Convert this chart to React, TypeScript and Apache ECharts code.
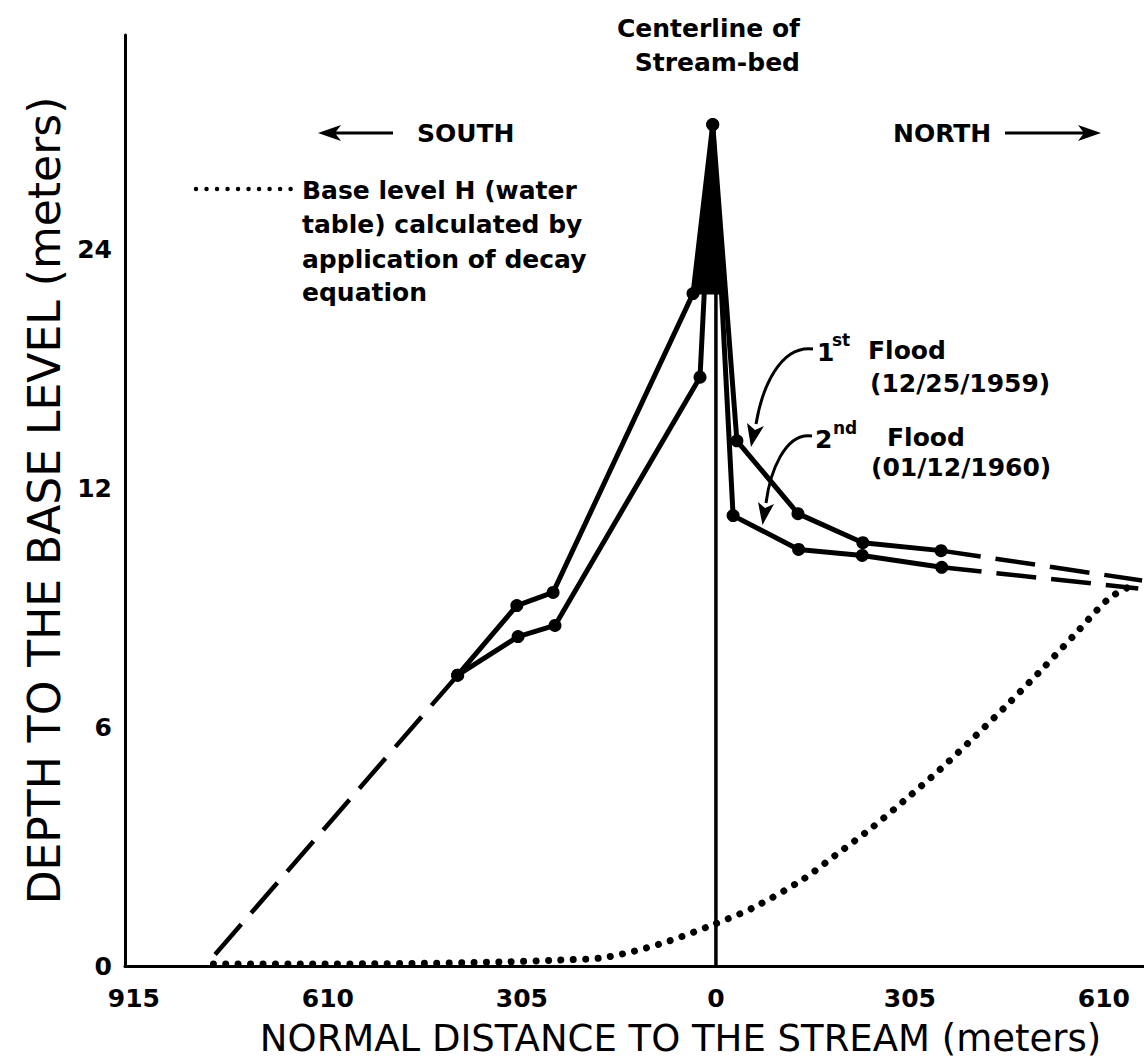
import React, { useEffect, useRef } from "react";
import * as echarts from "echarts";

// Horizontal distance from the stream centreline, metres (south negative, north positive)
const X_TICKS = [-915, -610, -305, 0, 305, 610];
// Depth axis tick values; they sit at equal steps on the axis
const DEPTH_TICKS = [0, 6, 12, 24];

// 1st flood (12/25/1959)
const FLOOD1_X = [-406, -313, -256, -36, -5, 33, 129, 231, 354];
const FLOOD1_DEPTH = [7.31, 9.06, 9.39, 21.8, 30.3, 14.4, 11.37, 10.64, 10.44];
// 2nd flood (01/12/1960)
const FLOOD2_X = [-406, -311, -253, -25, -5, 27, 130, 230, 355];
const FLOOD2_DEPTH = [7.31, 8.28, 8.56, 17.6, 30.3, 11.32, 10.47, 10.32, 10.02];

// Extrapolated (dashed) continuations
const SOUTH_EXT_X = [-406, -803];
const SOUTH_EXT_DEPTH = [7.31, 0];
const FLOOD1_TAIL_X = [354, 670];
const FLOOD1_TAIL_DEPTH = [10.44, 9.69];
const FLOOD2_TAIL_X = [355, 664];
const FLOOD2_TAIL_DEPTH = [10.02, 9.49];

// Base level H from the decay equation
const BASE_X = [-790, -654, -497, -340, -245, -182, -129, -75, -6, 58, 137, 190, 244, 297, 351, 404, 457, 511, 564, 618, 651];
const BASE_DEPTH = [0.05, 0.05, 0.06, 0.1, 0.15, 0.2, 0.37, 0.62, 1.03, 1.46, 2.18, 2.81, 3.46, 4.17, 4.92, 5.72, 6.55, 7.43, 8.33, 9.24, 9.54];

const CENTERLINE_TOP = 27;

const FONT = '"DejaVu Sans", "Liberation Sans", sans-serif';

// Piecewise-linear depth scale: each labelled tick is one axis step
function depthToAxis(d: number): number {
  const t = DEPTH_TICKS;
  for (let i = 1; i < t.length; i++) {
    if (d <= t[i] || i === t.length - 1) {
      return i - 1 + (d - t[i - 1]) / (t[i] - t[i - 1]);
    }
  }
  return 0;
}

function pairs(xs: number[], ds: number[]): number[][] {
  return xs.map((x, i) => [x, depthToAxis(ds[i])]);
}

// Ink wedge under the crest: 1st-flood south limb, crest, and the 2nd-flood
// north limb taken down to the depth of the 1st-flood south point.
function crestWedge(): number[][] {
  const crest = [FLOOD1_X[4], depthToAxis(FLOOD1_DEPTH[4])];
  const south = [FLOOD1_X[3], depthToAxis(FLOOD1_DEPTH[3])];
  const north = [FLOOD2_X[5], depthToAxis(FLOOD2_DEPTH[5])];
  const t = (crest[1] - south[1]) / (crest[1] - north[1]);
  const onNorth = [crest[0] + t * (north[0] - crest[0]), south[1]];
  return [crest, south, onNorth];
}

function label(text: string, x: number, y: number, size = 25, align = "left") {
  return {
    type: "text",
    x,
    y,
    z: 10,
    style: {
      text,
      fill: "#000",
      font: `bold ${size}px ${FONT}`,
      textAlign: align,
      textVerticalAlign: "middle",
    },
  };
}

function arrowHead(tip: number[], b1: number[], notch: number[], b2: number[]) {
  return {
    type: "polygon",
    z: 10,
    shape: { points: [tip, b1, notch, b2] },
    style: { fill: "#000" },
  };
}

export default function App() {
  const ref = useRef<HTMLDivElement>(null);

  useEffect(() => {
    if (!ref.current) return;
    const chart = echarts.init(ref.current, undefined, { renderer: "svg" });

    const solid = (name: string, xs: number[], ds: number[]) => ({
      name,
      type: "line",
      data: pairs(xs, ds),
      symbol: "circle",
      symbolSize: 13,
      showSymbol: true,
      itemStyle: { color: "#000" },
      lineStyle: { color: "#000", width: 5 },
      z: 5,
    });

    const dashed = (name: string, xs: number[], ds: number[]) => ({
      name,
      type: "line",
      data: pairs(xs, ds),
      symbol: "none",
      lineStyle: { color: "#000", width: 4.5, type: [40, 15] },
      z: 4,
    });

    const wedge = crestWedge();

    chart.setOption({
      animation: false,
      backgroundColor: "#fff",
      grid: { left: 125, right: 0, top: 35, bottom: 97, containLabel: false },
      xAxis: {
        type: "value",
        min: -929,
        max: 673,
        axisLine: { show: true, onZero: false, lineStyle: { color: "#000", width: 3 } },
        axisTick: { show: false },
        splitLine: { show: false },
        axisLabel: {
          customValues: X_TICKS,
          formatter: (v: number) => String(Math.abs(v)),
          color: "#000",
          fontFamily: FONT,
          fontWeight: "bold",
          fontSize: 25,
          margin: 20,
        },
        name: "NORMAL DISTANCE TO THE STREAM (meters)",
        nameLocation: "middle",
        nameGap: 54,
        nameTextStyle: {
          color: "#000",
          fontFamily: FONT,
          fontSize: 37,
          padding: [0, 0, 0, 92],
        },
      },
      yAxis: {
        type: "value",
        min: 0,
        max: 3.9,
        axisLine: { show: true, onZero: false, lineStyle: { color: "#000", width: 3 } },
        axisTick: { show: false },
        splitLine: { show: false },
        axisLabel: {
          customValues: [0, 1, 2, 3],
          formatter: (v: number) => String(DEPTH_TICKS[Math.round(v)]),
          color: "#000",
          fontFamily: FONT,
          fontWeight: "bold",
          fontSize: 25,
          margin: 13,
        },
        name: "DEPTH TO THE BASE LEVEL (meters)",
        nameLocation: "middle",
        nameRotate: 90,
        nameGap: 57,
        nameTextStyle: {
          color: "#000",
          fontFamily: FONT,
          fontSize: 44,
        },
      },
      series: [
        {
          name: "Base level H",
          type: "line",
          data: pairs(BASE_X, BASE_DEPTH),
          symbol: "none",
          smooth: 0.3,
          lineStyle: { color: "#000", width: 7, type: [0.01, 12.4], cap: "round" },
          z: 3,
        },
        {
          name: "Centerline",
          type: "line",
          data: [
            [0, 0],
            [0, depthToAxis(CENTERLINE_TOP)],
          ],
          symbol: "none",
          lineStyle: { color: "#000", width: 3.5 },
          z: 4,
        },
        {
          name: "Crest",
          type: "custom",
          data: [0],
          z: 4,
          renderItem: (_params: any, api: any) => ({
            type: "polygon",
            shape: { points: wedge.map((p) => api.coord(p)) },
            style: { fill: "#000", stroke: "#000", lineWidth: 2 },
          }),
        },
        dashed("South extension", SOUTH_EXT_X, SOUTH_EXT_DEPTH),
        dashed("1st Flood tail", FLOOD1_TAIL_X, FLOOD1_TAIL_DEPTH),
        dashed("2nd Flood tail", FLOOD2_TAIL_X, FLOOD2_TAIL_DEPTH),
        solid("1st Flood", FLOOD1_X, FLOOD1_DEPTH),
        solid("2nd Flood", FLOOD2_X, FLOOD2_DEPTH),
      ],
      graphic: [
        label("Centerline of", 800, 28, 25, "right"),
        label("Stream-bed", 800, 62, 25, "right"),

        // direction arrows
        label("SOUTH", 417, 133),
        { type: "line", z: 10, shape: { x1: 332, y1: 133, x2: 393, y2: 133 }, style: { stroke: "#000", lineWidth: 3 } },
        arrowHead([318, 133], [341, 125], [335, 133], [341, 141]),
        label("NORTH", 893, 133),
        { type: "line", z: 10, shape: { x1: 1005, y1: 133, x2: 1088, y2: 133 }, style: { stroke: "#000", lineWidth: 3 } },
        arrowHead([1101, 133], [1078, 125], [1084, 133], [1078, 141]),

        // legend for the base level curve
        {
          type: "line",
          z: 10,
          shape: { x1: 196, y1: 189, x2: 298, y2: 189 },
          style: { stroke: "#000", lineWidth: 4.5, lineDash: [0.01, 10.5], lineCap: "round" },
        },
        label("Base level H (water", 302, 190),
        label("table) calculated by", 302, 224),
        label("application of decay", 302, 259),
        label("equation", 302, 292),

        // flood annotations
        label("1", 817, 352),
        label("st", 832, 340, 17),
        label("Flood", 868, 350),
        label("(12/25/1959)", 870, 383),
        label("2", 815, 439),
        label("nd", 833, 428, 17),
        label("Flood", 887, 437),
        label("(01/12/1960)", 871, 467),
        {
          type: "bezierCurve",
          z: 10,
          shape: { x1: 813, y1: 349, cpx1: 780, cpy1: 345, cpx2: 762, cpy2: 388, x2: 756, y2: 424 },
          style: { stroke: "#000", lineWidth: 3, fill: "none" },
        },
        arrowHead([751, 447], [764, 426], [755, 430], [747, 423]),
        {
          type: "bezierCurve",
          z: 10,
          shape: { x1: 812, y1: 436, cpx1: 785, cpy1: 432, cpx2: 770, cpy2: 472, x2: 766, y2: 503 },
          style: { stroke: "#000", lineWidth: 3, fill: "none" },
        },
        arrowHead([762.5, 525], [774, 504], [765, 508], [758, 502]),
      ],
    });

    return () => chart.dispose();
  }, []);

  return (
    <div
      ref={ref}
      style={{ position: "absolute", left: 0, top: 0, width: 1144, height: 1063, background: "#fff" }}
    />
  );
}
